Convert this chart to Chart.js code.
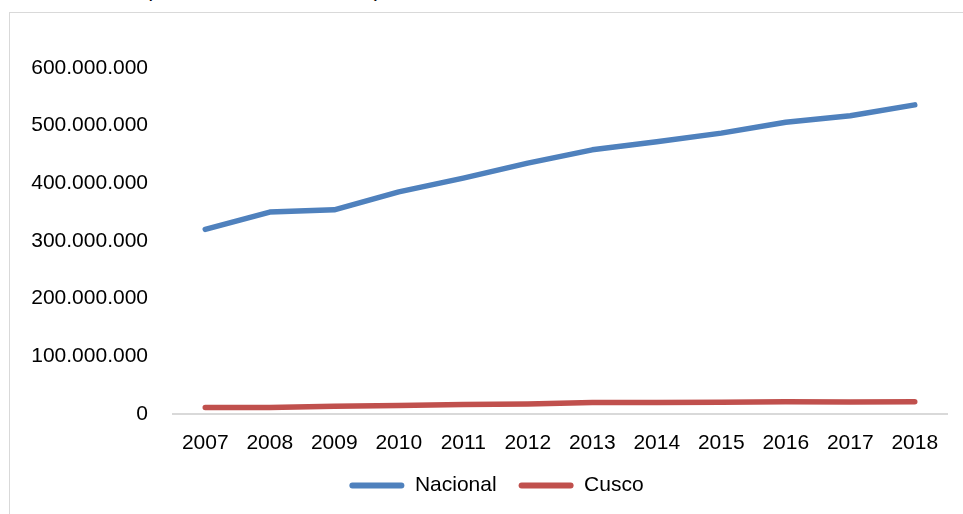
<!DOCTYPE html>
<html>
<head>
<meta charset="utf-8">
<script src="https://cdn.jsdelivr.net/npm/chart.js@4.4.1/dist/chart.umd.min.js"></script>
<style>
  html, body { margin: 0; padding: 0; background: #fff; overflow: hidden; }
  #wrap { position: relative; width: 963px; height: 514px; }
  #frame {
    position: absolute; left: 9px; top: 12px; width: 1000px; height: 600px;
    border-left: 1px solid #d9d9d9; border-top: 1px solid #d9d9d9;
  }
  .paren {
    position: absolute; top: -22px; font: italic 21px "Liberation Sans", sans-serif; color: #000;
  }
  canvas { position: absolute; left: 0; top: 0; }
</style>
</head>
<body>
<div id="wrap">
  <div id="frame"></div>
  <span class="paren" style="left:147px">(</span>
  <span class="paren" style="left:376px">)</span>
  <canvas id="chart" width="963" height="514"></canvas>
</div>
<script>
// Datos del gráfico
const years = ["2007", "2008", "2009", "2010", "2011", "2012", "2013", "2014", "2015", "2016", "2017", "2018"];
const nacional = [320e6, 350e6, 354e6, 385e6, 409e6, 435e6, 458e6, 472e6, 487e6, 506e6, 517e6, 536e6];
const cusco = [11e6, 11e6, 13e6, 14.5e6, 16e6, 17e6, 19.5e6, 19.5e6, 20e6, 21e6, 20.5e6, 21e6];
const yTicks = [0, 100e6, 200e6, 300e6, 400e6, 500e6, 600e6];

const fontFamily = '"Liberation Sans", Arial, sans-serif';

// Excel style thousands separator: 600.000.000
const fmt = (v) => String(Math.round(v)).replace(/\B(?=(\d{3})+(?!\d))/g, ".");

// legend sits a bit right of the canvas centre in the original
const shiftLegend = {
  id: "shiftLegend",
  afterLayout: (chart) => {
    chart.legend.left += 23;
    chart.legend.right += 23;
  },
};

const ctx = document.getElementById("chart").getContext("2d");
new Chart(ctx, {
  type: "line",
  data: {
    labels: years,
    datasets: [
      {
        label: "Nacional",
        data: nacional,
        borderColor: "#4F81BD",
        backgroundColor: "#4F81BD",
        borderWidth: 5.5,
        borderCapStyle: "round",
        borderJoinStyle: "round",
        pointRadius: 0,
        tension: 0,
      },
      {
        label: "Cusco",
        data: cusco,
        borderColor: "#C0504D",
        backgroundColor: "#C0504D",
        borderWidth: 5.5,
        borderCapStyle: "round",
        borderJoinStyle: "round",
        pointRadius: 0,
        tension: 0,
      },
    ],
  },
  plugins: [shiftLegend],
  options: {
    responsive: false,
    animation: false,
    layout: { padding: { top: 68, right: 16, left: 0, bottom: 8 } },
    plugins: {
      tooltip: { enabled: false },
      legend: {
        position: "bottom",
        labels: {
          color: "#000",
          font: { family: fontFamily, size: 21 },
          boxWidth: 55,
          boxHeight: 6,
          useBorderRadius: true,
          borderRadius: 3,
          padding: 22,
          generateLabels: (chart) =>
            Chart.defaults.plugins.legend.labels
              .generateLabels(chart)
              .map((item) => ({ ...item, lineWidth: 0 })),
        },
      },
    },
    scales: {
      x: {
        offset: true,
        grid: { display: false, drawTicks: false },
        border: { display: true, color: "#d9d9d9", width: 2 },
        ticks: {
          color: "#000",
          font: { family: fontFamily, size: 21 },
          padding: 17,
          maxRotation: 0,
          autoSkip: false,
        },
        afterFit: (scale) => {
          scale.height = scale.height - 20;
        },
      },
      y: {
        min: 0,
        max: 600e6,
        afterBuildTicks: (scale) => {
          scale.ticks = yTicks.map((v) => ({ value: v }));
        },
        afterFit: (scale) => {
          scale.width = 173;
        },
        grid: { display: false, drawTicks: false },
        border: { display: false },
        ticks: {
          color: "#000",
          font: { family: fontFamily, size: 21 },
          padding: 25,
          callback: (v) => fmt(v),
        },
      },
    },
  },
});
</script>
</body>
</html>
